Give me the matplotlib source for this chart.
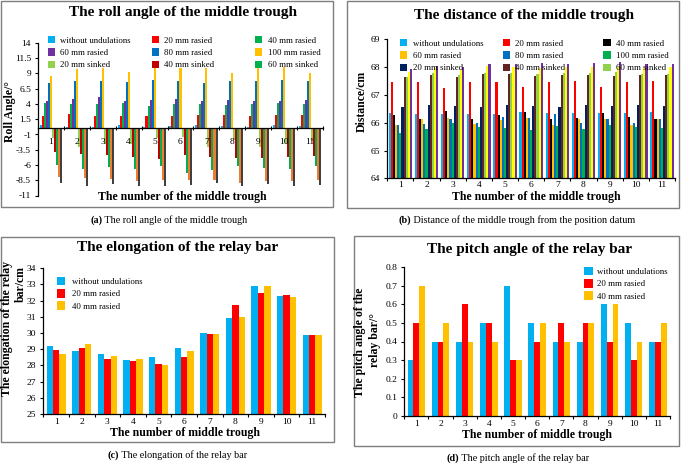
import matplotlib
matplotlib.use('Agg')
import matplotlib.pyplot as plt
import numpy as np
from matplotlib.patches import Patch, Rectangle
from matplotlib.legend import Legend

plt.rcParams['font.family'] = ['Liberation Serif', 'DejaVu Serif']
plt.rcParams['axes.unicode_minus'] = False

# ---------------- data ----------------
troughs = list(range(1, 12))
trough_labels = [str(i) for i in troughs]

# (a) roll angle of the middle trough (deg)
roll_without = [0.5, 0.2, 0.3, 0.5, 0.3, 0.4, 0.5, 0.4, 0.3, 0.6, 0.4]
roll_r20 = [2.1, 2.3, 2.0, 2.0, 2.0, 2.1, 2.2, 2.2, 2.1, 2.2, 2.2]
roll_r40 = [4.1, 4.0, 4.0, 4.2, 3.7, 4.0, 4.0, 3.9, 4.0, 4.1, 4.0]
roll_r60 = [4.5, 4.9, 5.1, 4.5, 4.6, 4.9, 4.5, 4.7, 4.5, 4.5, 4.7]
roll_r80 = [7.5, 7.7, 7.8, 7.6, 8.0, 7.7, 7.5, 7.7, 7.8, 8.0, 7.7]
roll_r100 = [8.6, 9.7, 9.9, 9.3, 10.1, 9.9, 9.9, 9.1, 9.9, 10.1, 9.0]
roll_s20 = [-1.6, -3.0, -2.6, -2.6, -1.6, -1.4, -3.0, -1.9, -3.0, -2.5, -2.1]
roll_s40 = [-3.8, -4.2, -4.3, -4.7, -5.0, -4.3, -4.7, -4.9, -4.9, -4.7, -4.6]
roll_s60 = [-6.0, -6.6, -6.4, -6.7, -6.2, -7.3, -6.8, -6.2, -6.5, -6.7, -6.2]
roll_s80 = [-7.9, -8.1, -8.3, -8.6, -8.4, -8.4, -8.5, -8.9, -8.6, -8.7, -8.4]
roll_s100 = [-9.0, -9.4, -9.1, -9.4, -9.4, -9.3, -9.0, -9.4, -9.1, -9.5, -9.3]
roll_ticks = [14, 11.5, 9, 6.5, 4, 1.5, -1, -3.5, -6, -8.5, -11]

# (b) distance of the middle trough (cm)
dist_without = [66.34, 66.32, 66.32, 66.30, 66.32, 66.40, 66.34, 66.36, 66.36, 66.34, 66.38]
dist_r20 = [67.45, 67.45, 67.24, 67.45, 67.45, 67.28, 67.45, 67.50, 67.30, 67.46, 67.50]
dist_r40 = [66.28, 66.14, 66.42, 66.12, 66.28, 66.40, 66.12, 66.17, 66.36, 66.22, 66.14]
dist_r60 = [65.92, 66.14, 66.16, 65.94, 66.10, 66.16, 65.92, 66.12, 66.12, 65.92, 66.12]
dist_r80 = [65.90, 65.94, 66.12, 66.00, 66.20, 66.16, 66.32, 65.98, 66.15, 65.98, 66.14]
dist_r100 = [65.62, 65.79, 65.98, 65.86, 65.81, 65.72, 65.88, 65.78, 65.92, 65.86, 65.80]
dist_s20 = [66.58, 66.62, 66.60, 66.58, 66.64, 66.60, 66.58, 66.64, 66.60, 66.64, 66.60]
dist_s40 = [67.63, 67.70, 67.64, 67.75, 67.75, 67.69, 67.72, 67.72, 67.69, 67.72, 67.70]
dist_s60 = [67.66, 67.78, 67.70, 67.78, 67.80, 67.76, 67.78, 67.80, 67.84, 67.75, 67.76]
dist_s80 = [67.84, 67.96, 67.88, 68.05, 68.00, 67.98, 68.00, 68.00, 68.02, 67.96, 68.02]
dist_s100 = [67.92, 68.05, 68.00, 68.12, 68.10, 68.14, 68.10, 68.14, 68.18, 68.10, 68.10]

# (c) elongation of the relay bar (cm)
elong_without = [29.2, 28.9, 28.7, 28.35, 28.55, 29.1, 30.0, 30.95, 32.9, 32.3, 29.85]
elong_r20 = [28.95, 29.1, 28.4, 28.25, 28.1, 28.5, 29.95, 31.75, 32.45, 32.35, 29.85]
elong_r40 = [28.7, 29.3, 28.6, 28.4, 28.05, 28.9, 29.95, 31.0, 32.9, 32.25, 29.85]

# (d) pitch angle of the relay bar (deg)
pitch_without = [0.3, 0.4, 0.4, 0.5, 0.7, 0.5, 0.4, 0.4, 0.6, 0.5, 0.4]
pitch_r20 = [0.5, 0.4, 0.6, 0.5, 0.3, 0.4, 0.5, 0.5, 0.4, 0.3, 0.4]
pitch_r40 = [0.7, 0.5, 0.4, 0.4, 0.3, 0.5, 0.4, 0.5, 0.6, 0.4, 0.5]

# ---------------- figure helpers ----------------
W, H = 685, 467
fig = plt.figure(figsize=(W / 100, H / 100), dpi=100)
renderer = fig.canvas.get_renderer()


def fx(x):
    return x / W


def fy(y):
    return 1 - y / H


def add_ax(l, t, r, b):
    return fig.add_axes([l / W, 1 - b / H, (r - l) / W, (b - t) / H])


def box(l, t, r, b):
    fig.add_artist(Rectangle((fx(l), fy(b)), (r - l) / W, (b - t) / H,
                             transform=fig.transFigure, fill=False,
                             edgecolor='#7f7f7f', linewidth=1.0))


def col_legend(ax, colors, labels, x, y, fs=6.3, hl=0.85, hh=0.9, ls=0.42, tp=0.6):
    handles = [Patch(facecolor=c, edgecolor='none') for c in colors]
    leg = Legend(ax, handles, labels, loc='upper left',
                 bbox_to_anchor=(fx(x), fy(y)), bbox_transform=fig.transFigure,
                 frameon=False, prop={'size': fs}, handlelength=hl, handleheight=hh,
                 handletextpad=tp, labelspacing=ls, borderpad=0, borderaxespad=0)
    ax.add_artist(leg)


def caption(tag, rest, cx, y, fs=7.3):
    t1 = fig.text(0, fy(y), tag, fontsize=fs, fontweight='bold', ha='left', va='center')
    t2 = fig.text(0, fy(y), ' ' + rest, fontsize=fs, ha='left', va='center')
    w1 = t1.get_window_extent(renderer).width
    w2 = t2.get_window_extent(renderer).width
    left = cx - (w1 + w2) / 2
    t1.set_x(fx(left))
    t2.set_x(fx(left + w1))


def grouped(ax, series, colors, total):
    n = len(series)
    w = total / n
    x = np.array(troughs, dtype=float)
    for i, (vals, c) in enumerate(zip(series, colors)):
        ax.bar(x + (i - (n - 1) / 2) * w, vals, width=w, color=c, linewidth=0)


def style(ax, ylim, yticks, ytl, xpad=2.5):
    ax.set_xlim(0.5, 11.5)
    ax.set_ylim(*ylim)
    for s in ['top', 'right']:
        ax.spines[s].set_visible(False)
    for s in ['left', 'bottom']:
        ax.spines[s].set_linewidth(0.9)
    ax.set_yticks(yticks)
    ax.set_yticklabels(ytl)
    ax.set_xticks(np.arange(0.5, 12.0, 1.0))
    ax.set_xticklabels([])
    ax.set_xticks(troughs, minor=True)
    ax.set_xticklabels(trough_labels, minor=True)
    ax.tick_params(axis='y', direction='out', length=2.5, width=0.8, pad=2.5, labelsize=6.8)
    ax.tick_params(axis='x', which='major', direction='out', length=2.5, width=0.8)
    ax.tick_params(axis='x', which='minor', length=0, pad=xpad, labelsize=6.8)
    ax.patch.set_alpha(0)


TITLE = dict(fontsize=11, fontweight='bold', ha='center', va='center')
XL = dict(fontsize=8.5, fontweight='bold', ha='center', va='center')
YL = dict(fontsize=8.5, fontweight='bold', ha='center', va='center', rotation=90)

# ---------------- (a) ----------------
box(1, 1, 333, 207)
axa = add_ax(38, 43, 323, 195.5)
cols_a = ['#00B0F0', '#FF0000', '#00B050', '#7030A0', '#0070C0', '#FFC000',
          '#92D050', '#C00000', '#00B050', '#ED7D31', '#404040']
grouped(axa, [roll_without, roll_r20, roll_r40, roll_r60, roll_r80, roll_r100,
              roll_s20, roll_s40, roll_s60, roll_s80, roll_s100], cols_a, 0.86)
style(axa, (-11, 14), roll_ticks, [('%g' % v) for v in roll_ticks], xpad=7)
axa.spines['bottom'].set_position(('data', 0))
axa.tick_params(axis='x', which='major', direction='inout', length=3)
fig.text(fx(183), fy(12.7), 'The roll angle of the middle trough', **TITLE)
fig.text(fx(182), fy(196.5), 'The number of the middle trough', **XL)
fig.text(fx(10), fy(112), 'Roll Angle/°', **YL)
col_legend(axa, ['#00B0F0', '#7030A0', '#92D050'],
           ['without undulations', '60 mm rasied', '20 mm sinked'], 47.7, 36)
col_legend(axa, ['#FF0000', '#0070C0', '#C00000'],
           ['20 mm rasied', '80 mm rasied', '40 mm sinked'], 151.7, 36)
col_legend(axa, ['#00B050', '#FFC000', '#00B050'],
           ['40 mm rasied', '100 mm rasied', '60 mm sinked'], 255, 36)
caption('(a)', 'The roll angle of the middle trough', 169, 220)

# ---------------- (b) ----------------
box(347, 1, 679, 208)
axb = add_ax(387.3, 39.3, 675, 178.3)
cols_b = ['#00B0F0', '#FF0000', '#000000', '#FFC000', '#0070C0', '#00B050',
          '#002060', '#632523', '#92D050', '#FFFF00', '#7030A0']
grouped(axb, [dist_without, dist_r20, dist_r40, dist_r60, dist_r80, dist_r100,
              dist_s20, dist_s40, dist_s60, dist_s80, dist_s100], cols_b, 0.9)
style(axb, (64, 69), [64, 65, 66, 67, 68, 69], ['64', '65', '66', '67', '68', '69'], xpad=2)
fig.text(fx(524), fy(15), 'The distance of the middle trough', **TITLE)
fig.text(fx(536), fy(196.5), 'The number of the middle trough', **XL)
fig.text(fx(361.7), fy(101), 'Distance/cm', **YL)
col_legend(axb, ['#00B0F0', '#FFC000', '#002060'],
           ['without undulations', '60 mm rasied', '20 mm sinked'], 400, 39)
col_legend(axb, ['#FF0000', '#0070C0', '#632523'],
           ['20 mm rasied', '80 mm rasied', '40 mm sinked'], 502.7, 39)
col_legend(axb, ['#000000', '#00B050', '#92D050'],
           ['40 mm rasied', '100 mm rasied', '60 mm sinked'], 603.3, 39)
caption('(b)', 'Distance of the middle trough from the position datum', 517, 220)

# ---------------- (c) ----------------
box(1, 237, 334, 442)
axc = add_ax(43.3, 268.3, 325, 414)
cols_c = ['#00B0F0', '#FF0000', '#FFC000']
grouped(axc, [elong_without, elong_r20, elong_r40], cols_c, 0.75)
style(axc, (25, 34), list(range(25, 35)), [str(v) for v in range(25, 35)], xpad=3)
fig.text(fx(178), fy(248), 'The elongation of the relay bar', **TITLE)
fig.text(fx(185), fy(433), 'The number of middle trough', **XL)
fig.text(fx(7.5), fy(328), 'The elongation of the relay', **YL)
fig.text(fx(20.7), fy(284), 'bar/cm', **YL)
col_legend(axc, cols_c, ['without undulations', '20 mm rasied', '40 mm rasied'],
           56.7, 277, hl=1.0, hh=1.1, ls=0.35, tp=0.7)
caption('(c)', 'The elongation of the relay bar', 177, 455)

# ---------------- (d) ----------------
box(354, 236, 679, 446)
axd = add_ax(404.3, 267.3, 670, 415.7)
grouped(axd, [pitch_without, pitch_r20, pitch_r40], cols_c, 0.72)
dt = [round(0.1 * i, 1) for i in range(9)]
style(axd, (0, 0.8), dt, [('%g' % v) for v in dt], xpad=3)
fig.text(fx(530), fy(249), 'The pitch angle of the relay bar', **TITLE)
fig.text(fx(537), fy(435), 'The number of middle trough', **XL)
fig.text(fx(360), fy(342), 'The pitch angle of the', **YL)
fig.text(fx(375), fy(340), 'relay bar/°', **YL)
col_legend(axd, cols_c, ['without undulations', '20 mm rasied', '40 mm rasied'],
           584, 267, hl=1.0, hh=1.1, ls=0.35, tp=0.5)
caption('(d)', 'The pitch angle of the relay bar', 518, 458)

fig.savefig('out.png', dpi=100)
